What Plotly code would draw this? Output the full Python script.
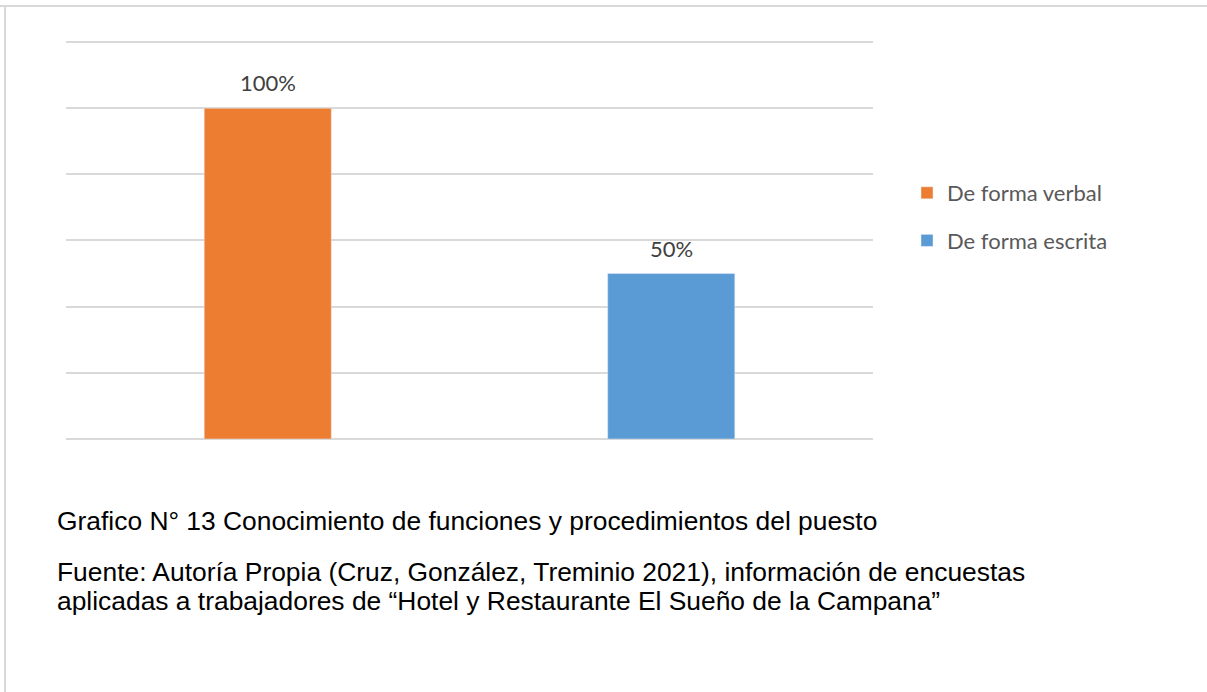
'''
    Bar chart: Conocimiento de funciones y procedimientos del puesto.
'''
import plotly.graph_objects as go

# data
categorias = ['De forma verbal', 'De forma escrita']
porcentajes = [1.0, 0.5]
etiquetas = ['100%', '50%']
colores = ['#ED7D31', '#5B9BD5']

titulo = 'Grafico N° 13 Conocimiento de funciones y procedimientos del puesto'
fuente_1 = 'Fuente: Autoría Propia (Cruz, González, Treminio 2021), información de encuestas'
fuente_2 = 'aplicadas a trabajadores de “Hotel y Restaurante El Sueño de la Campana”'

W, H = 1207, 692
Y_MAX = 1.25
CAPTION_FONT = dict(family='Liberation Sans, Arial', size=26.4, color='#000000')

fig = go.Figure()

# one trace per category so each gets its own legend entry
for cat, val, col in zip(categorias, porcentajes, colores):
    fig.add_trace(go.Bar(
        x=[cat],
        y=[val],
        name=cat,
        marker_color=col,
        width=0.315,
        legendgroup=cat,
    ))

# data labels above the bars
for cat, val, lab in zip(categorias, porcentajes, etiquetas):
    fig.add_annotation(
        x=cat, y=val, xref='x', yref='y',
        text=lab, showarrow=False,
        yanchor='bottom', yshift=10,
        font=dict(family='Lato', size=22, color='#404040'),
    )

# caption texts under the chart (one annotation per line)
for txt, ypix in [(titulo, 521), (fuente_1, 572), (fuente_2, 601)]:
    fig.add_annotation(
        xref='paper', yref='paper', x=55 / W, y=1 - ypix / H,
        xanchor='left', yanchor='middle', showarrow=False, align='left',
        text=txt, font=CAPTION_FONT,
    )

# frame lines on top and left edge
fig.add_shape(type='line', xref='paper', yref='paper', x0=0, x1=1,
              y0=1 - 6 / H, y1=1 - 6 / H, line=dict(color='#D9D9D9', width=2))
fig.add_shape(type='line', xref='paper', yref='paper', x0=5 / W, x1=5 / W,
              y0=0, y1=1 - 6 / H, line=dict(color='#D9D9D9', width=2))

# plot area: 0 at y=439px, 1.2 at y=42px
y_top_px = 439 - (439 - 42) * Y_MAX / 1.2

fig.update_layout(
    width=W,
    height=H,
    margin=dict(l=0, r=0, t=0, b=0),
    paper_bgcolor='white',
    plot_bgcolor='white',
    barmode='overlay',
    showlegend=True,
    legend=dict(
        x=907 / W, y=1 - 217 / H,
        xanchor='left', yanchor='middle',
        font=dict(family='Lato', size=22, color='#595959'),
        tracegroupgap=16,
        bgcolor='rgba(0,0,0,0)',
    ),
    font=dict(family='Lato'),
)

fig.update_xaxes(
    domain=[66 / W, 873 / W],
    showticklabels=False,
    showgrid=False,
    zeroline=False,
    showline=False,
    ticks='',
)
fig.update_yaxes(
    domain=[1 - 439 / H, 1 - y_top_px / H],
    range=[0, Y_MAX],
    tickvals=[0.2, 0.4, 0.6, 0.8, 1.0, 1.2],
    showticklabels=False,
    showgrid=True,
    gridcolor='#D9D9D9',
    gridwidth=1.5,
    zeroline=True,
    zerolinecolor='#D9D9D9',
    zerolinewidth=1.5,
    ticks='',
)

fig.write_html(
    'out.html',
    config={'displayModeBar': False},
    post_script="document.body.style.margin='0';document.body.style.overflow='hidden';",
)
